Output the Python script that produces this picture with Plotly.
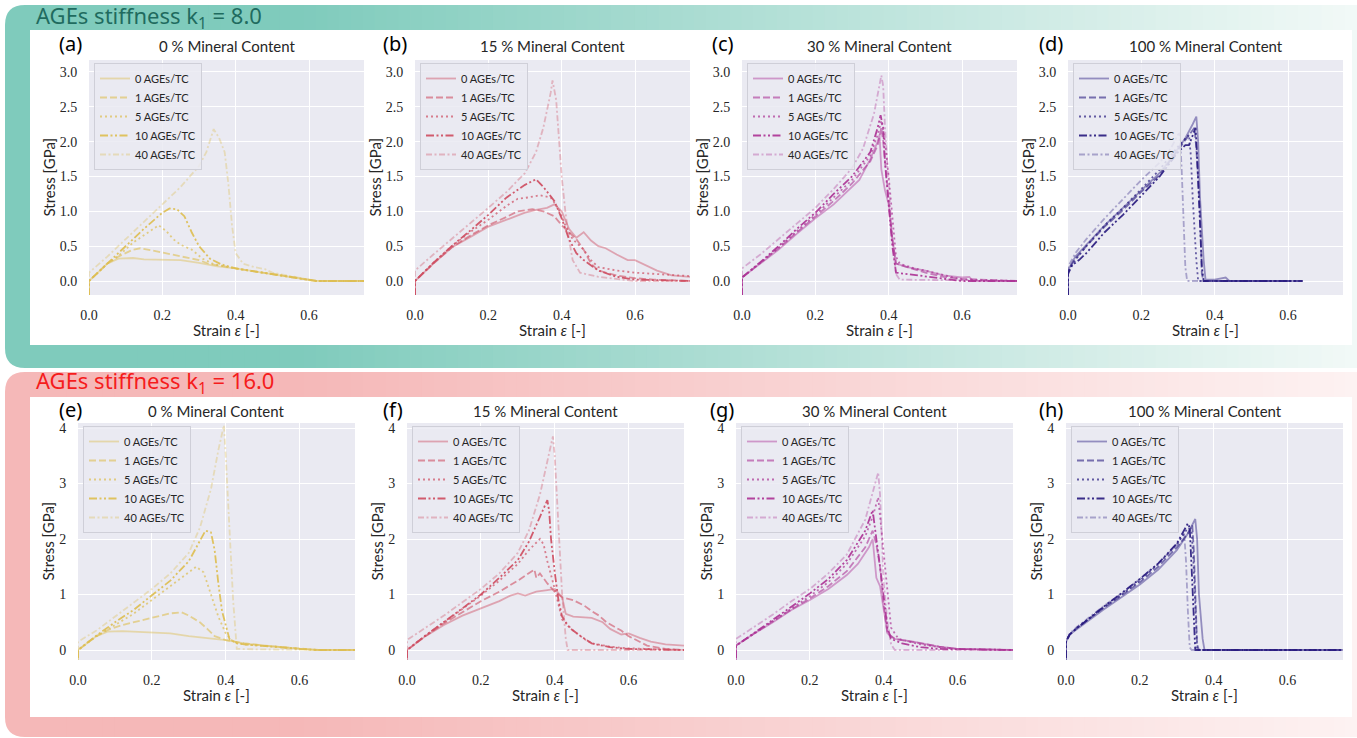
import plotly.graph_objects as go

W, H = 1357, 738

# ---------------- data ----------------
ages_labels = ["0 AGEs/TC", "1 AGEs/TC", "5 AGEs/TC", "10 AGEs/TC", "40 AGEs/TC"]
panel_titles = ["0 % Mineral Content", "15 % Mineral Content", "30 % Mineral Content", "100 % Mineral Content"] * 2
panel_letters = ["(a)", "(b)", "(c)", "(d)", "(e)", "(f)", "(g)", "(h)"]
x_ticks = [0.0, 0.2, 0.4, 0.6]
y_ticks_k8 = [0.0, 0.5, 1.0, 1.5, 2.0, 2.5, 3.0]
y_ticks_k16 = [0, 1, 2, 3, 4]
banner_titles = ["AGEs stiffness k<sub>1</sub> = 8.0", "AGEs stiffness k<sub>1</sub> = 16.0"]

# (a) k1=8, 0 % mineral
a0_x = [0, 0, 0.02, 0.05, 0.08, 0.12, 0.15, 0.2, 0.25, 0.3, 0.35, 0.4, 0.45, 0.5, 0.55, 0.6, 0.62, 0.75]
a0_y = [-0.5, 0, 0.1, 0.25, 0.32, 0.33, 0.31, 0.3, 0.3, 0.26, 0.21, 0.18, 0.14, 0.1, 0.06, 0.02, 0.0, 0.0]
a1_x = [0, 0, 0.05, 0.08, 0.12, 0.14, 0.17, 0.2, 0.23, 0.26, 0.28, 0.3, 0.33, 0.36, 0.4, 0.45, 0.5, 0.55, 0.6, 0.62, 0.75]
a1_y = [-0.5, 0, 0.25, 0.35, 0.45, 0.47, 0.44, 0.41, 0.38, 0.34, 0.33, 0.3, 0.24, 0.22, 0.18, 0.14, 0.1, 0.06, 0.02, 0.0, 0.0]
a5_x = [0, 0, 0.05, 0.08, 0.12, 0.16, 0.19, 0.21, 0.23, 0.25, 0.28, 0.31, 0.34, 0.4, 0.45, 0.5, 0.55, 0.6, 0.62, 0.75]
a5_y = [-0.5, 0, 0.25, 0.36, 0.55, 0.7, 0.8, 0.72, 0.6, 0.52, 0.45, 0.32, 0.24, 0.18, 0.14, 0.1, 0.06, 0.02, 0.0, 0.0]
a10_x = [0, 0, 0.05, 0.1, 0.15, 0.2, 0.22, 0.24, 0.26, 0.28, 0.3, 0.33, 0.36, 0.4, 0.45, 0.5, 0.55, 0.6, 0.62, 0.75]
a10_y = [-0.5, 0, 0.25, 0.5, 0.75, 0.98, 1.04, 1.03, 0.93, 0.7, 0.5, 0.32, 0.24, 0.18, 0.14, 0.1, 0.06, 0.02, 0.0, 0.0]
a40_x = [0, 0, 0.05, 0.1, 0.15, 0.2, 0.25, 0.3, 0.32, 0.34, 0.355, 0.37, 0.38, 0.39, 0.4, 0.42, 0.45, 0.48, 0.5, 0.55, 0.6, 0.62, 0.75]
a40_y = [-0.5, 0.12, 0.35, 0.6, 0.85, 1.1, 1.35, 1.65, 1.85, 2.18, 2.05, 1.85, 1.4, 0.8, 0.4, 0.25, 0.2, 0.17, 0.12, 0.07, 0.02, 0.0, 0.0]

# (b) k1=8, 15 % mineral
b0_x = [0, 0, 0.05, 0.1, 0.15, 0.2, 0.25, 0.3, 0.33, 0.36, 0.38, 0.4, 0.42, 0.44, 0.46, 0.48, 0.5, 0.52, 0.55, 0.58, 0.6, 0.63, 0.66, 0.7, 0.75]
b0_y = [-0.5, 0, 0.25, 0.48, 0.63, 0.78, 0.88, 0.98, 1.02, 1.05, 1.1, 1.0, 0.75, 0.62, 0.7, 0.58, 0.5, 0.47, 0.38, 0.3, 0.3, 0.22, 0.15, 0.08, 0.06]
b1_x = [0, 0, 0.05, 0.1, 0.15, 0.2, 0.25, 0.28, 0.32, 0.35, 0.38, 0.4, 0.42, 0.44, 0.46, 0.48, 0.5, 0.55, 0.6, 0.65, 0.75]
b1_y = [-0.5, 0, 0.25, 0.48, 0.65, 0.8, 0.92, 1.0, 1.03, 1.0, 0.93, 0.8, 0.7, 0.6, 0.45, 0.25, 0.15, 0.08, 0.04, 0.02, 0.0]
b5_x = [0, 0, 0.05, 0.1, 0.15, 0.2, 0.25, 0.28, 0.31, 0.34, 0.37, 0.39, 0.41, 0.43, 0.46, 0.48, 0.5, 0.55, 0.6, 0.65, 0.7, 0.75]
b5_y = [-0.5, 0, 0.26, 0.5, 0.7, 0.88, 1.08, 1.18, 1.2, 1.23, 1.2, 1.05, 0.8, 0.6, 0.45, 0.3, 0.2, 0.15, 0.12, 0.1, 0.08, 0.07]
b10_x = [0, 0, 0.05, 0.1, 0.15, 0.2, 0.25, 0.3, 0.33, 0.35, 0.38, 0.4, 0.42, 0.44, 0.46, 0.5, 0.55, 0.6, 0.75]
b10_y = [-0.5, 0, 0.26, 0.5, 0.72, 0.95, 1.2, 1.38, 1.46, 1.35, 1.15, 0.9, 0.6, 0.4, 0.3, 0.15, 0.06, 0.02, 0.0]
b40_x = [0, 0, 0.05, 0.1, 0.15, 0.2, 0.25, 0.3, 0.33, 0.35, 0.37, 0.375, 0.385, 0.39, 0.4, 0.41, 0.42, 0.43, 0.45, 0.5, 0.55, 0.6, 0.75]
b40_y = [-0.5, 0.15, 0.38, 0.6, 0.82, 1.05, 1.28, 1.55, 1.85, 2.2, 2.7, 2.88, 2.6, 2.2, 1.5, 1.0, 0.6, 0.3, 0.12, 0.06, 0.03, 0.0, 0.0]

# (c) k1=8, 30 % mineral
c0_x = [0, 0, 0.05, 0.1, 0.15, 0.2, 0.25, 0.3, 0.32, 0.35, 0.37, 0.375, 0.38, 0.39, 0.4, 0.41, 0.42, 0.45, 0.5, 0.55, 0.6, 0.62, 0.63, 0.75]
c0_y = [-0.5, 0.05, 0.25, 0.45, 0.68, 0.9, 1.1, 1.35, 1.45, 1.75, 2.0, 2.1, 1.6, 1.3, 1.1, 0.6, 0.25, 0.2, 0.15, 0.08, 0.05, 0.06, 0.0, 0.0]
c1_x = [0, 0, 0.05, 0.1, 0.15, 0.2, 0.25, 0.3, 0.35, 0.37, 0.38, 0.385, 0.4, 0.41, 0.42, 0.45, 0.5, 0.55, 0.6, 0.75]
c1_y = [-0.5, 0.05, 0.26, 0.47, 0.7, 0.93, 1.15, 1.4, 1.72, 1.95, 2.2, 2.0, 1.2, 0.6, 0.25, 0.2, 0.12, 0.06, 0.03, 0.0]
c5_x = [0, 0, 0.05, 0.1, 0.15, 0.2, 0.25, 0.3, 0.35, 0.37, 0.38, 0.39, 0.4, 0.41, 0.42, 0.43, 0.47, 0.5, 0.55, 0.6, 0.75]
c5_y = [-0.5, 0.05, 0.26, 0.48, 0.72, 0.95, 1.2, 1.45, 1.8, 2.1, 2.3, 2.0, 1.5, 0.9, 0.35, 0.25, 0.18, 0.15, 0.08, 0.02, 0.0]
c10_x = [0, 0, 0.05, 0.1, 0.15, 0.2, 0.25, 0.3, 0.35, 0.37, 0.378, 0.385, 0.39, 0.4, 0.41, 0.42, 0.45, 0.5, 0.55, 0.6, 0.75]
c10_y = [-0.5, 0.05, 0.27, 0.5, 0.75, 0.98, 1.25, 1.5, 1.85, 2.2, 2.38, 2.2, 1.7, 1.1, 0.5, 0.12, 0.1, 0.06, 0.03, 0.0, 0.0]
c40_x = [0, 0, 0.05, 0.1, 0.15, 0.2, 0.25, 0.3, 0.33, 0.36, 0.38, 0.385, 0.39, 0.4, 0.41, 0.42, 0.43, 0.75]
c40_y = [-0.5, 0.18, 0.38, 0.6, 0.82, 1.05, 1.32, 1.62, 1.9, 2.4, 2.95, 2.8, 2.2, 1.4, 0.6, 0.1, 0.02, 0.0]

# (d) k1=8, 100 % mineral
d0_x = [0, 0, 0.02, 0.05, 0.1, 0.15, 0.2, 0.25, 0.28, 0.3, 0.32, 0.34, 0.35, 0.355, 0.36, 0.37, 0.375, 0.4, 0.43, 0.44, 0.6, 0.64]
d0_y = [-0.5, 0.15, 0.35, 0.52, 0.8, 1.05, 1.3, 1.55, 1.75, 1.9, 2.05, 2.25, 2.36, 2.0, 1.2, 0.3, 0.02, 0.02, 0.05, 0.0, 0.0, 0.0]
d1_x = [0, 0, 0.02, 0.05, 0.1, 0.15, 0.2, 0.25, 0.3, 0.33, 0.345, 0.35, 0.36, 0.365, 0.37, 0.45, 0.63]
d1_y = [-0.5, 0.15, 0.32, 0.5, 0.78, 1.02, 1.28, 1.52, 1.88, 2.1, 2.2, 1.9, 1.0, 0.1, 0.0, 0.0, 0.0]
d5_x = [0, 0, 0.02, 0.05, 0.1, 0.15, 0.2, 0.25, 0.3, 0.32, 0.33, 0.335, 0.34, 0.35, 0.355, 0.45, 0.62]
d5_y = [-0.5, 0.12, 0.3, 0.5, 0.8, 1.05, 1.32, 1.6, 1.93, 2.05, 2.1, 1.8, 1.2, 0.3, 0.0, 0.0, 0.0]
d10_x = [0, 0, 0.01, 0.03, 0.05, 0.1, 0.15, 0.2, 0.25, 0.3, 0.32, 0.33, 0.34, 0.348, 0.352, 0.36, 0.365, 0.37, 0.45, 0.64]
d10_y = [-0.5, 0.1, 0.22, 0.3, 0.4, 0.7, 0.95, 1.22, 1.5, 1.85, 1.95, 1.95, 2.1, 2.2, 1.8, 0.9, 0.2, 0.0, 0.0, 0.0]
d40_x = [0, 0, 0.02, 0.05, 0.1, 0.15, 0.2, 0.25, 0.28, 0.3, 0.305, 0.31, 0.315, 0.32, 0.325, 0.45, 0.6]
d40_y = [-0.5, 0.2, 0.4, 0.6, 0.9, 1.18, 1.45, 1.7, 1.9, 2.1, 2.12, 1.6, 0.8, 0.2, 0.0, 0.0, 0.0]

# (e) k1=16, 0 % mineral
e0_x = [0, 0, 0.05, 0.08, 0.12, 0.2, 0.25, 0.3, 0.35, 0.4, 0.45, 0.5, 0.55, 0.6, 0.65, 0.75]
e0_y = [-0.5, 0, 0.25, 0.33, 0.34, 0.31, 0.3, 0.25, 0.21, 0.18, 0.12, 0.08, 0.05, 0.02, 0.0, 0.0]
e1_x = [0, 0, 0.05, 0.08, 0.12, 0.16, 0.2, 0.25, 0.28, 0.3, 0.33, 0.35, 0.37, 0.4, 0.45, 0.5, 0.55, 0.6, 0.65, 0.75]
e1_y = [-0.5, 0, 0.25, 0.36, 0.45, 0.52, 0.58, 0.66, 0.68, 0.62, 0.5, 0.38, 0.25, 0.18, 0.12, 0.08, 0.05, 0.02, 0.0, 0.0]
e5_x = [0, 0, 0.05, 0.1, 0.15, 0.2, 0.25, 0.3, 0.32, 0.34, 0.36, 0.38, 0.4, 0.42, 0.45, 0.5, 0.55, 0.6, 0.65, 0.75]
e5_y = [-0.5, 0, 0.25, 0.45, 0.65, 0.9, 1.15, 1.4, 1.5, 1.4, 1.0, 0.6, 0.3, 0.15, 0.1, 0.08, 0.05, 0.02, 0.0, 0.0]
e10_x = [0, 0, 0.05, 0.1, 0.15, 0.2, 0.25, 0.3, 0.33, 0.345, 0.36, 0.37, 0.38, 0.39, 0.41, 0.43, 0.45, 0.5, 0.55, 0.6, 0.65, 0.75]
e10_y = [-0.5, 0, 0.26, 0.5, 0.72, 0.98, 1.25, 1.6, 1.95, 2.15, 2.12, 1.8, 1.2, 0.7, 0.2, 0.12, 0.1, 0.08, 0.05, 0.02, 0.0, 0.0]
e40_x = [0, 0, 0.05, 0.1, 0.15, 0.2, 0.25, 0.3, 0.33, 0.36, 0.38, 0.395, 0.4, 0.41, 0.42, 0.43, 0.5, 0.75]
e40_y = [-0.5, 0.15, 0.35, 0.6, 0.85, 1.1, 1.38, 1.75, 2.2, 2.9, 3.6, 4.05, 3.5, 2.3, 0.9, 0.02, 0.01, 0.0]

# (f) k1=16, 15 % mineral
f0_x = [0, 0, 0.05, 0.1, 0.15, 0.2, 0.25, 0.28, 0.3, 0.32, 0.35, 0.38, 0.4, 0.42, 0.43, 0.45, 0.5, 0.53, 0.55, 0.58, 0.6, 0.63, 0.66, 0.7, 0.75]
f0_y = [-0.5, 0, 0.25, 0.45, 0.62, 0.75, 0.88, 0.98, 1.02, 0.98, 1.05, 1.08, 1.1, 0.95, 0.65, 0.6, 0.58, 0.5, 0.38, 0.28, 0.3, 0.22, 0.15, 0.1, 0.08]
f1_x = [0, 0, 0.05, 0.1, 0.15, 0.2, 0.25, 0.3, 0.345, 0.35, 0.36, 0.38, 0.4, 0.42, 0.45, 0.48, 0.5, 0.52, 0.54, 0.56, 0.58, 0.6, 0.62, 0.65, 0.7, 0.75]
f1_y = [-0.5, 0, 0.25, 0.48, 0.68, 0.88, 1.05, 1.25, 1.45, 1.3, 1.38, 1.2, 1.05, 0.95, 0.9, 0.8, 0.7, 0.62, 0.5, 0.42, 0.35, 0.25, 0.18, 0.08, 0.02, 0.0]
f5_x = [0, 0, 0.05, 0.1, 0.15, 0.2, 0.25, 0.3, 0.33, 0.36, 0.37, 0.38, 0.4, 0.41, 0.42, 0.45, 0.48, 0.5, 0.55, 0.6, 0.75]
f5_y = [-0.5, 0, 0.26, 0.5, 0.73, 0.98, 1.25, 1.55, 1.8, 2.0, 1.9, 1.6, 1.1, 0.8, 0.55, 0.35, 0.2, 0.12, 0.06, 0.03, 0.0]
f10_x = [0, 0, 0.05, 0.1, 0.15, 0.2, 0.25, 0.3, 0.33, 0.36, 0.38, 0.385, 0.39, 0.4, 0.41, 0.42, 0.44, 0.47, 0.5, 0.55, 0.6, 0.75]
f10_y = [-0.5, 0, 0.26, 0.5, 0.75, 1.0, 1.3, 1.62, 1.95, 2.4, 2.7, 2.5, 2.0, 1.4, 0.9, 0.6, 0.4, 0.25, 0.12, 0.05, 0.02, 0.0]
f40_x = [0, 0, 0.05, 0.1, 0.15, 0.2, 0.25, 0.3, 0.33, 0.36, 0.38, 0.395, 0.4, 0.41, 0.42, 0.43, 0.435, 0.75]
f40_y = [-0.5, 0.18, 0.4, 0.62, 0.86, 1.1, 1.38, 1.75, 2.15, 2.8, 3.4, 3.85, 3.5, 2.2, 1.0, 0.2, 0.0, 0.0]

# (g) k1=16, 30 % mineral
g0_x = [0, 0, 0.05, 0.1, 0.15, 0.2, 0.25, 0.3, 0.33, 0.36, 0.37, 0.375, 0.38, 0.39, 0.4, 0.41, 0.43, 0.48, 0.55, 0.6, 0.75]
g0_y = [-0.5, 0.08, 0.3, 0.5, 0.72, 0.9, 1.1, 1.35, 1.55, 1.85, 2.0, 1.7, 1.3, 1.15, 0.7, 0.3, 0.2, 0.15, 0.06, 0.02, 0.0]
g1_x = [0, 0, 0.05, 0.1, 0.15, 0.2, 0.25, 0.3, 0.35, 0.37, 0.38, 0.39, 0.4, 0.41, 0.43, 0.5, 0.55, 0.6, 0.75]
g1_y = [-0.5, 0.08, 0.3, 0.52, 0.73, 0.93, 1.15, 1.42, 1.85, 2.15, 1.9, 1.5, 0.8, 0.3, 0.2, 0.12, 0.06, 0.02, 0.0]
g5_x = [0, 0, 0.05, 0.1, 0.15, 0.2, 0.25, 0.3, 0.35, 0.37, 0.385, 0.39, 0.4, 0.41, 0.42, 0.44, 0.5, 0.55, 0.6, 0.75]
g5_y = [-0.5, 0.08, 0.3, 0.52, 0.75, 0.97, 1.22, 1.55, 2.05, 2.4, 2.75, 2.4, 1.8, 1.0, 0.4, 0.2, 0.1, 0.05, 0.02, 0.0]
g10_x = [0, 0, 0.05, 0.1, 0.15, 0.2, 0.25, 0.3, 0.35, 0.37, 0.375, 0.38, 0.39, 0.4, 0.41, 0.42, 0.45, 0.5, 0.55, 0.75]
g10_y = [-0.5, 0.08, 0.31, 0.54, 0.78, 1.02, 1.28, 1.62, 2.15, 2.52, 2.3, 2.0, 1.5, 1.0, 0.4, 0.2, 0.12, 0.05, 0.02, 0.0]
g40_x = [0, 0, 0.05, 0.1, 0.15, 0.2, 0.25, 0.3, 0.35, 0.37, 0.385, 0.39, 0.395, 0.4, 0.41, 0.42, 0.43, 0.75]
g40_y = [-0.5, 0.2, 0.42, 0.64, 0.88, 1.1, 1.38, 1.72, 2.35, 2.85, 3.2, 2.8, 2.0, 1.2, 0.5, 0.1, 0.0, 0.0]

# (h) k1=16, 100 % mineral
h0_x = [0, 0, 0.01, 0.03, 0.05, 0.1, 0.15, 0.2, 0.25, 0.3, 0.33, 0.35, 0.355, 0.36, 0.37, 0.375, 0.75]
h0_y = [-0.5, 0.15, 0.28, 0.38, 0.48, 0.72, 0.95, 1.18, 1.45, 1.8, 2.1, 2.36, 2.0, 1.0, 0.2, 0.0, 0.0]
h1_x = [0, 0, 0.01, 0.03, 0.05, 0.1, 0.15, 0.2, 0.25, 0.3, 0.33, 0.342, 0.346, 0.35, 0.355, 0.36, 0.75]
h1_y = [-0.5, 0.15, 0.28, 0.4, 0.5, 0.75, 0.98, 1.22, 1.5, 1.85, 2.1, 2.25, 1.8, 0.9, 0.1, 0.0, 0.0]
h5_x = [0, 0, 0.01, 0.03, 0.05, 0.1, 0.15, 0.2, 0.25, 0.3, 0.33, 0.34, 0.345, 0.35, 0.355, 0.75]
h5_y = [-0.5, 0.15, 0.28, 0.4, 0.5, 0.76, 1.0, 1.25, 1.55, 1.9, 2.2, 2.15, 1.6, 0.6, 0.0, 0.0]
h10_x = [0, 0, 0.01, 0.03, 0.05, 0.1, 0.15, 0.2, 0.25, 0.3, 0.33, 0.335, 0.34, 0.345, 0.35, 0.75]
h10_y = [-0.5, 0.15, 0.28, 0.4, 0.5, 0.77, 1.02, 1.28, 1.56, 1.92, 2.28, 2.2, 1.5, 0.6, 0.0, 0.0]
h40_x = [0, 0, 0.01, 0.03, 0.05, 0.1, 0.15, 0.2, 0.25, 0.3, 0.32, 0.325, 0.33, 0.335, 0.34, 0.75]
h40_y = [-0.5, 0.15, 0.3, 0.42, 0.52, 0.78, 1.02, 1.28, 1.56, 1.9, 2.1, 1.6, 0.7, 0.05, 0.0, 0.0]

panels = [
    [(a0_x, a0_y), (a1_x, a1_y), (a5_x, a5_y), (a10_x, a10_y), (a40_x, a40_y)],
    [(b0_x, b0_y), (b1_x, b1_y), (b5_x, b5_y), (b10_x, b10_y), (b40_x, b40_y)],
    [(c0_x, c0_y), (c1_x, c1_y), (c5_x, c5_y), (c10_x, c10_y), (c40_x, c40_y)],
    [(d0_x, d0_y), (d1_x, d1_y), (d5_x, d5_y), (d10_x, d10_y), (d40_x, d40_y)],
    [(e0_x, e0_y), (e1_x, e1_y), (e5_x, e5_y), (e10_x, e10_y), (e40_x, e40_y)],
    [(f0_x, f0_y), (f1_x, f1_y), (f5_x, f5_y), (f10_x, f10_y), (f40_x, f40_y)],
    [(g0_x, g0_y), (g1_x, g1_y), (g5_x, g5_y), (g10_x, g10_y), (g40_x, g40_y)],
    [(h0_x, h0_y), (h1_x, h1_y), (h5_x, h5_y), (h10_x, h10_y), (h40_x, h40_y)],
]

# ---------------- styles ----------------
base_colors = [(221, 190, 82), (206, 78, 98), (172, 52, 150), (42, 28, 128)] * 2
alphas = [0.45, 0.6, 0.7, 0.92, 0.35]
dashes = ["solid", "7px,3px", "2px,3px", "8px,2.5px,2px,2.5px,2px,2.5px", "6px,2.5px,2px,2.5px"]

def px_x(p):
    return p / W

def px_y(p):
    return 1 - p / H

# plot-area pixel boxes (left, right, top, bottom)
top_lefts = [89, 415, 742, 1068]
bot_lefts = [78, 407, 736, 1066]
boxes = [(l, l + 275, 60, 295) for l in top_lefts] + [(l, l + 277, 423, 660) for l in bot_lefts]

fig = go.Figure()
layout = dict(
    width=W, height=H, margin=dict(l=0, r=0, t=0, b=0, autoexpand=False),
    paper_bgcolor="white", plot_bgcolor="rgba(0,0,0,0)",
    showlegend=True,
)

shapes = []
annotations = []

# ------------- banners with gradient -------------
def banner(y0, y1, c_full, c_end, fade_start):
    r = 20
    xl = 5
    rx, ry = r / W, r / H
    X0, X1 = px_x(xl), px_x(60)
    YT, YB = px_y(y0), px_y(y1)
    path = (f"M {X0+rx},{YT} L {X1},{YT} L {X1},{YB} L {X0+rx},{YB} "
            f"Q {X0},{YB} {X0},{YB+ry} L {X0},{YT-ry} Q {X0},{YT} {X0+rx},{YT} Z")
    shapes.append(dict(type="path", path=path, xref="paper", yref="paper",
                       fillcolor="rgb(%d,%d,%d)" % c_full, line=dict(width=0), layer="below"))
    n = 110
    x_start, x_end = 55, W
    step = (x_end - x_start) / n
    for i in range(n):
        xa = x_start + i * step
        xm = xa + step / 2
        t = 0.0 if xm < fade_start else (xm - fade_start) / (x_end - fade_start)
        t = min(max(t, 0), 1)
        c = tuple(int(round(c_full[k] + (c_end[k] - c_full[k]) * t)) for k in range(3))
        shapes.append(dict(type="rect", xref="paper", yref="paper",
                           x0=px_x(xa), x1=px_x(xa + step + 0.8), y0=px_y(y1), y1=px_y(y0),
                           fillcolor="rgb(%d,%d,%d)" % c, line=dict(width=0), layer="below"))

banner(5, 368, (127, 203, 188), (242, 249, 247), 300)
banner(372, 737, (245, 184, 184), (253, 242, 242), 300)

for (y0, y1) in [(30, 345), (397, 717)]:
    shapes.append(dict(type="rect", xref="paper", yref="paper",
                       x0=px_x(30), x1=px_x(1352), y0=px_y(y1), y1=px_y(y0),
                       fillcolor="white", line=dict(width=0), layer="below"))

annotations.append(dict(text=banner_titles[0], x=px_x(34), y=px_y(17), xref="paper", yref="paper",
                        xanchor="left", yanchor="middle", showarrow=False,
                        font=dict(family="Noto Sans", size=22, color="#1f6b5f")))
annotations.append(dict(text=banner_titles[1], x=px_x(34), y=px_y(382), xref="paper", yref="paper",
                        xanchor="left", yanchor="middle", showarrow=False,
                        font=dict(family="Noto Sans", size=22, color="#f51c1c")))

tick_font = dict(family="Liberation Serif", size=14, color="#262626")
label_font = dict(family="Lato", size=15, color="#262626")

for p in range(8):
    l, r, t, b = boxes[p]
    k = p + 1
    xa = "xaxis" if k == 1 else f"xaxis{k}"
    ya = "yaxis" if k == 1 else f"yaxis{k}"
    xr = "x" if k == 1 else f"x{k}"
    yr = "y" if k == 1 else f"y{k}"
    top = p < 4
    layout[xa] = dict(domain=[px_x(l), px_x(r)], anchor=yr, range=[0, 0.75], automargin=False,
                      tickvals=x_ticks, ticktext=["%.1f" % v for v in x_ticks],
                      showgrid=True, gridcolor="white", gridwidth=1, zeroline=False, showline=False,
                      ticks="outside", ticklen=7, tickcolor="rgba(0,0,0,0)", tickfont=tick_font)
    yt = y_ticks_k8 if top else y_ticks_k16
    layout[ya] = dict(domain=[px_y(b), px_y(t)], anchor=xr, automargin=False,
                      range=[-0.201, 3.172] if top else [-0.18, 4.09],
                      tickvals=yt, ticktext=["%.1f" % v for v in yt] if top else ["%d" % v for v in yt],
                      showgrid=True, gridcolor="white", gridwidth=1, zeroline=False, showline=False,
                      ticks="outside", ticklen=8, tickcolor="rgba(0,0,0,0)", tickfont=tick_font)
    shapes.append(dict(type="rect", xref=f"{xr} domain", yref=f"{yr} domain",
                       x0=0, x1=1, y0=0, y1=1, fillcolor="#eaeaf2", line=dict(width=0), layer="below"))
    leg = "legend" if k == 1 else f"legend{k}"
    layout[leg] = dict(x=px_x(l + 5), y=px_y(t + 3), xref="paper", yref="paper",
                       xanchor="left", yanchor="top",
                       bgcolor="rgba(234,234,242,0.85)", bordercolor="#cfcfd8", borderwidth=1,
                       font=dict(family="Lato", size=11, color="#262626"),
                       tracegroupgap=0, itemwidth=30)
    cb = base_colors[p]
    for s in range(5):
        xs, ys = panels[p][s]
        a = alphas[s]
        fig.add_trace(go.Scatter(
            x=xs, y=ys, mode="lines", name=ages_labels[s], xaxis=xr, yaxis=yr, legend=leg,
            line=dict(color="rgba(%d,%d,%d,%.2f)" % (cb[0], cb[1], cb[2], a), width=1.8, dash=dashes[s]),
            hoverinfo="skip"))
    cx = (l + r) / 2
    annotations.append(dict(text=panel_titles[p], x=px_x(cx), y=px_y(46 if top else 411),
                            xref="paper", yref="paper", showarrow=False, xanchor="center", yanchor="middle",
                            font=label_font))
    letter_x = [70, 395, 723, 1051, 70, 393, 722, 1051][p]
    annotations.append(dict(text=panel_letters[p], x=px_x(letter_x), y=px_y(43 if top else 409),
                            xref="paper", yref="paper", showarrow=False, xanchor="center", yanchor="middle",
                            font=dict(family="Noto Sans", size=20, color="black")))
    annotations.append(dict(text="Stress [GPa]", x=px_x(l - (41 if top else 31)), y=px_y((t + b) / 2),
                            xref="paper", yref="paper", showarrow=False, textangle=-90,
                            xanchor="center", yanchor="middle", font=label_font))
    annotations.append(dict(text="Strain <i>ε</i> [-]", x=px_x(cx), y=px_y(330 if top else 695),
                            xref="paper", yref="paper", showarrow=False,
                            xanchor="center", yanchor="middle", font=label_font))

layout["shapes"] = shapes
layout["annotations"] = annotations
fig.update_layout(**layout)
fig.write_html(
    "out.html",
    config={"responsive": False, "displayModeBar": False},
    post_script="document.body.style.margin='0';document.body.style.padding='0';"
                "document.documentElement.style.overflow='hidden';",
)
